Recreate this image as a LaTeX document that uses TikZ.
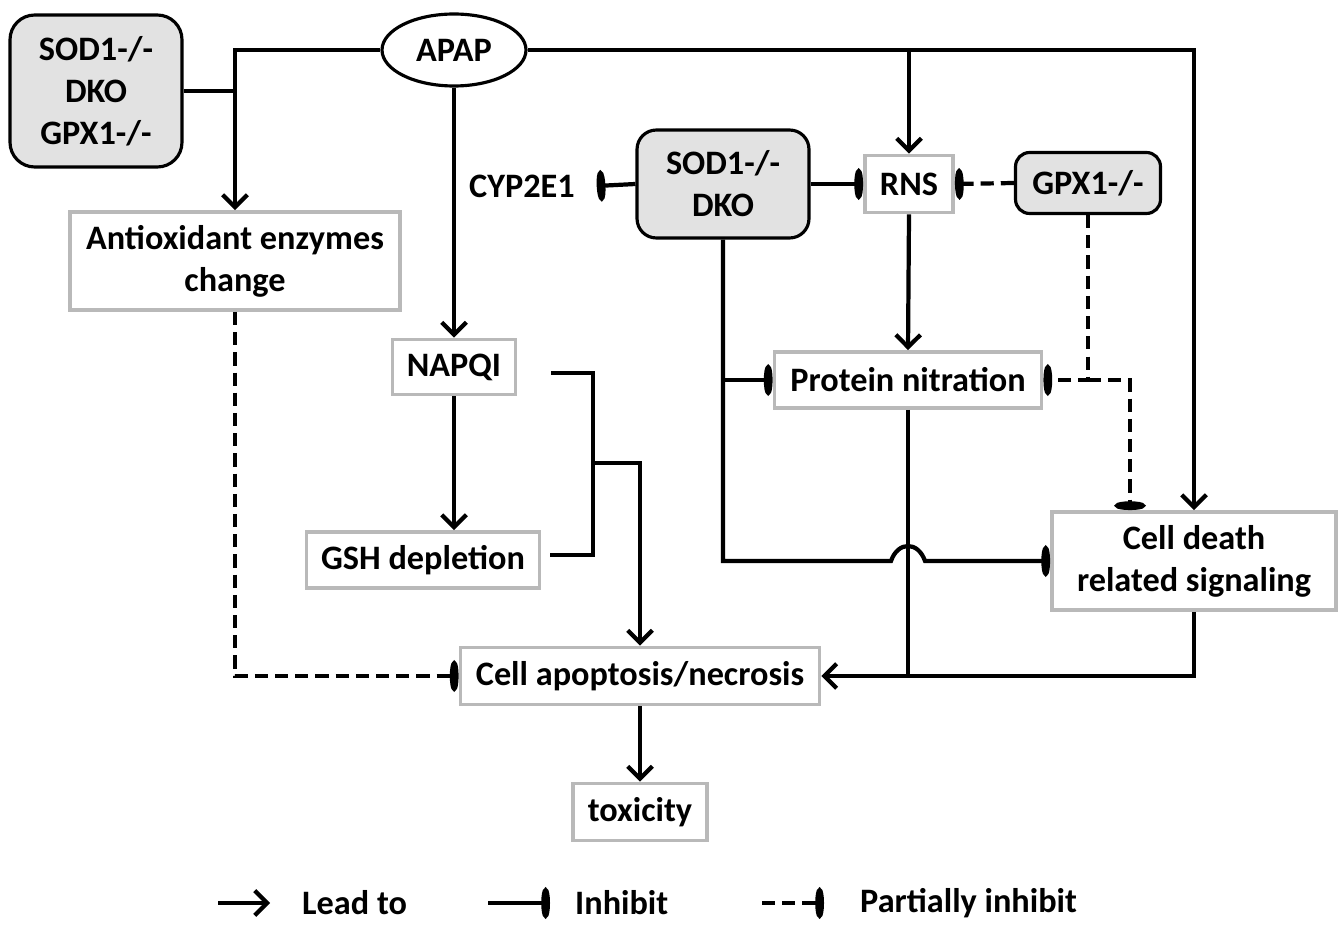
\documentclass[tikz,border=0pt]{standalone}
\usepackage{fontspec}
\setmainfont{Carlito}
\usepackage{tikz}
\usetikzlibrary{arrows.meta,shapes.geometric,calc,positioning}
\definecolor{boxgray}{RGB}{185,185,185}
\definecolor{kofill}{RGB}{226,226,226}
\tikzset{
 box/.style={draw=boxgray, line width=2.2pt, fill=white, align=center, inner sep=0pt},
 kobox/.style={draw=black, line width=1.8pt, fill=kofill, rounded corners=11pt, align=center, inner sep=0pt},
 conn/.style={draw, line width=2.4pt},
 lead/.style={conn, -{Straight Barb[length=7pt,width=14pt]}},
 inhibit/.style={conn, -{Ellipse[length=5pt,width=17pt]}},
 pinhibit/.style={inhibit, dash pattern=on 7.5pt off 4pt},
}

\begin{document}
\begin{tikzpicture}[x=0.02cm, y=-0.02cm, every node/.style={font=\fontsize{19.5}{24}\selectfont\bfseries}]
\useasboundingbox (0,0) rectangle (1344,925);

%Knockouts
\node[kobox, rounded corners=14pt, minimum width=34.4mm, minimum height=30.4mm] (sod1) at (96,91) {SOD1-/-\\DKO\\GPX1-/-};
\node[kobox, minimum width=34.4mm, minimum height=21.6mm] (sod2) at (723,184) {SOD1-/-\\DKO};
\node[kobox, rounded corners=8pt, minimum width=29mm, minimum height=12.2mm] (gpx) at (1088,183) {GPX1-/-};

%Drug and metabolism
\node[ellipse, draw, line width=1.8pt, fill=white, minimum width=28.8mm, minimum height=14.4mm, inner sep=0pt] (apap) at (454,50) {APAP};
\node[inner sep=2pt] (cyp) at (522,186) {CYP2E1};
\node[box, minimum width=24.6mm, minimum height=11mm] (napqi) at (454,367) {NAPQI};
\node[box, minimum width=46.6mm, minimum height=11.2mm] (gsh) at (423,560) {GSH depletion};

%Effects
\node[box, minimum width=66mm, minimum height=19.6mm] (antiox) at (235,261) {Antioxidant enzymes\\change};
\node[box, minimum width=17.6mm, minimum height=11.4mm] (rns) at (909,184) {RNS};
\node[box, minimum width=53.4mm, minimum height=11.2mm] (prot) at (908,380) {Protein nitration};
\node[box, minimum width=56.8mm, minimum height=19.6mm] (celldeath) at (1194,561) {Cell death\\related signaling};
\node[box, minimum width=71.8mm, minimum height=11.4mm] (apop) at (640,676) {Cell apoptosis/necrosis};
\node[box, minimum width=26.8mm, minimum height=11.4mm] (tox) at (640,812) {toxicity};

%APAP branches
\draw[lead] (apap.west) -| (antiox.north);
\draw[conn] (sod1.east) -- (sod1.east -| antiox.north);
\draw[lead] (apap.east) -| (celldeath.north);
\draw[lead] (apap.east -| rns.north) -- (rns.north);
\draw[lead] (apap.south) -- (napqi.north);
\draw[lead] (napqi.south) -- (napqi.south |- gsh.north);

%SOD1 DKO
\draw[inhibit] (sod2.west) -- ($(cyp.east)+(18,0)$);
\draw[inhibit] (sod2.east) -- (rns.west);
\draw[inhibit] (sod2.south |- prot.west) -- (prot.west);
\draw[inhibit] (sod2.south) -- (sod2.south |- celldeath.west)
  -- ($(prot.south |- celldeath.west)+(-17,0)$) .. controls +(7,-20) and +(-7,-20) .. ($(prot.south |- celldeath.west)+(17,0)$)
  -- (celldeath.west);

%GPX1
\draw[pinhibit] (gpx.west) -- (rns.east);
\draw[pinhibit] (gpx.south) |- (prot.east);
\draw[pinhibit] (gpx.south |- prot.east) -| ($(celldeath.north)+(-64,0)$);

%RNS
\draw[lead] (rns.south) -- (prot.north);
\draw[conn] (prot.south) -- (prot.south |- apop.east);
\draw[lead] (celldeath.south) |- (apop.east);

%NAPQI/GSH bracket
\coordinate (nq) at ($(napqi.east)+(34,6)$);
\coordinate (gs) at ($(gsh.east)+(9,-5)$);
\coordinate (jn) at (593,463);
\draw[conn] (nq) -| (jn |- gs) -- (gs);
\draw[lead] (jn) -| (apop.north);

\draw[pinhibit] (antiox.south) |- (apop.west);
\draw[lead] (apop.south) -- (tox.north);

%Legend
\node[anchor=west] (lg1) at (296,903) {Lead to};
\node[anchor=west] (lg2) at (569,903) {Inhibit};
\node[anchor=west] (lg3) at (854,903) {Partially inhibit};
\draw[lead] ([xshift=-15.6mm]lg1.west) -- ([xshift=-5.2mm]lg1.west);
\draw[inhibit] ([xshift=-16.2mm]lg2.west) -- ([xshift=-3.8mm]lg2.west);
\draw[pinhibit] ([xshift=-18.4mm]lg3.west) -- ([xshift=-6mm]lg3.west);

\end{tikzpicture}
\end{document}
